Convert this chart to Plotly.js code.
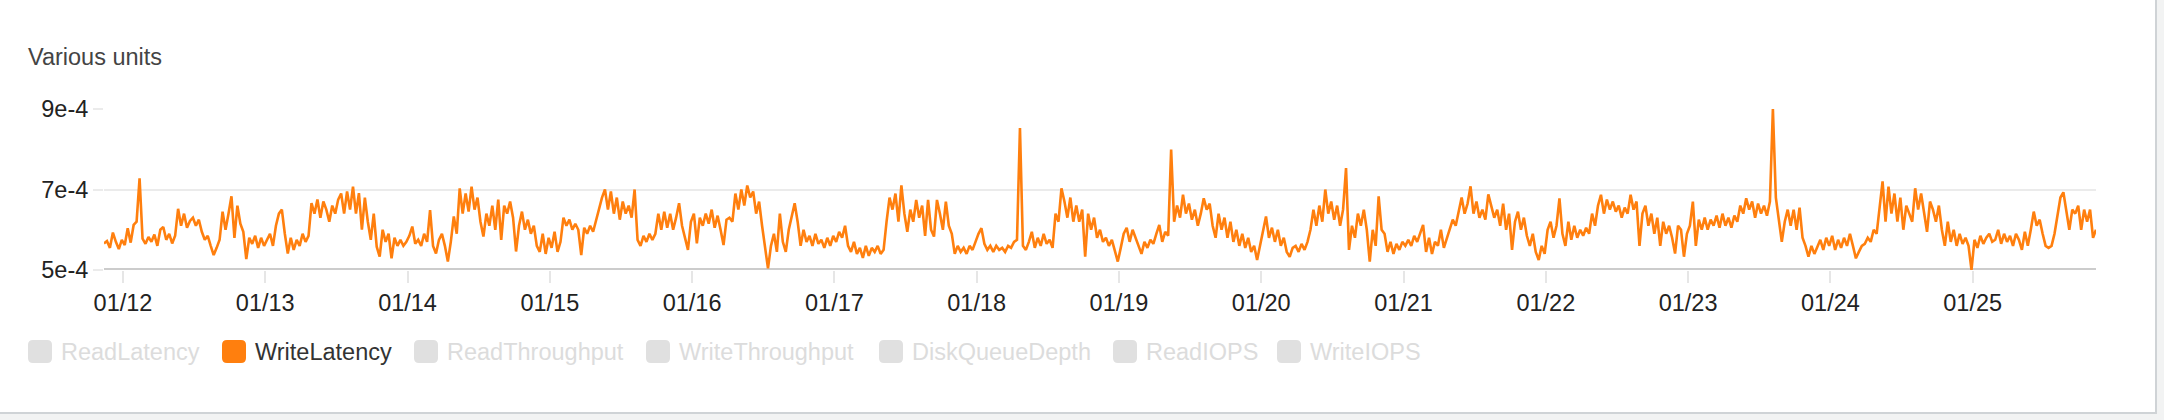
<!DOCTYPE html>
<html><head><meta charset="utf-8">
<script src="https://cdn.plot.ly/plotly-3.0.1.min.js"></script>
<style>
html,body{margin:0;padding:0;background:#f2f3f3;width:2164px;height:420px;overflow:hidden}
#panel{position:absolute;left:0;top:0;width:2155px;height:412px;background:#fff;border-right:2px solid #cfd3d6;border-bottom:2px solid #cfd3d6}
#chart{position:absolute;left:0;top:0;width:2164px;height:420px}
</style></head><body>
<div id="panel"></div><div id="chart"></div>
<script>
// ---- data ----
const chartTitle = 'Various units';
const seriesName = 'WriteLatency';
const legendNames = ['ReadLatency','WriteLatency','ReadThroughput','WriteThroughput','DiskQueueDepth','ReadIOPS','WriteIOPS'];
const legendActive = [false,true,false,false,false,false,false];
const startTimeUTC = [2021, 0, 11, 20, 48];   // first sample
const periodMinutes = 30;
const rangeStart = '2021-01-11 20:48';
const rangeEnd = '2021-01-25 20:48';
const yTickVals = [5e-4, 7e-4, 9e-4];
const yTickText = ['5e-4', '7e-4', '9e-4'];
// WriteLatency in microseconds (1e-6 s), one value per 30 minutes
const writeLatencyMicros = [
566,572,555,593,570,552,575,562,604,568,
612,620,728,578,565,582,570,588,560,600,
607,575,590,566,585,652,610,640,605,622,
630,610,625,595,575,585,560,537,555,575,
645,600,640,683,580,660,615,595,527,580,
565,585,555,580,560,575,590,560,610,640,
650,590,541,580,550,575,560,590,570,585,
666,640,675,630,670,650,620,660,640,675,
690,640,695,650,707,640,691,600,680,620,
575,640,558,533,600,570,590,529,580,560,
575,560,570,585,608,565,575,560,590,570,
649,560,541,575,590,560,521,570,633,590,
703,640,690,645,707,650,680,620,583,640,
610,660,600,675,
575,660,640,670,630,546,
610,645,600,625,590,610,560,545,590,540,
580,555,595,545,570,630,610,625,600,615,
600,537,605,590,610,595,625,650,680,700,
650,695,640,680,625,670,640,660,630,700,
575,560,585,570,590,575,590,640,600,645,
605,640,600,630,666,610,580,550,620,640,
566,630,610,640,615,650,605,635,600,562,
625,630,620,690,650,700,660,710,680,695,
640,670,610,560,504,560,590,545,640,570,
545,600,630,666,620,560,600,570,585,560,
590,565,575,555,580,560,585,570,595,580,
610,560,545,570,540,555,530,560,535,555,
545,560,540,550,620,680,
650,690,620,710,
640,595,650,620,674,630,660,585,674,600,
583,674,640,600,670,610,590,540,560,545,
555,540,560,550,570,590,604,565,550,560,
545,560,550,555,545,560,555,570,575,853,
560,550,570,595,555,580,560,590,565,575,
555,640,620,703,670,630,680,620,660,620,
650,533,640,600,630,580,600,570,580,560,
575,550,521,555,590,605,570,600,580,555,
540,570,555,575,565,590,612,570,595,585,
799,620,660,630,687,640,665,625,650,610,
640,678,650,665,610,580,640,600,630,580,
620,570,600,560,590,555,580,545,560,525,
560,590,633,580,605,570,600,560,580,545,
533,555,
560,545,565,550,570,600,650,610,
660,620,700,640,670,625,660,610,650,753,
550,610,580,640,610,650,600,521,600,560,
683,600,590,545,570,540,565,550,570,560,
575,560,585,570,590,612,545,580,540,570,
560,600,555,580,600,625,610,650,680,640,
665,708,640,670,630,650,625,688,660,630,
650,610,665,600,640,550,620,645,600,630,
585,560,590,545,525,560,540,600,620,580,
610,678,590,560,620,575,610,580,600,585,
605,590,640,610,660,687,640,675,650,670,
645,660,630,655,640,687,650,670,560,640,
660,610,640,590,630,560,620,590,610,580,
541,610,600,533,590,610,
670,560,625,600,
630,600,625,610,635,605,640,610,630,605,
635,620,660,640,678,650,670,630,665,640,
660,635,670,900,680,630,570,620,650,610,
650,600,655,580,560,533,560,540,560,575,
550,580,560,585,550,575,555,580,560,590,
560,529,545,560,565,580,570,600,590,650,
720,620,707,640,690,620,680,600,660,640,
620,703,650,690,640,595,670,650,620,660,
600,560,620,570,600,560,590,565,580,560,
500,575,555,585,565,580,590,570,575,600,
565,590,570,585,560,590,575,550,595,560,
600,645,610,625,590,560,555,560,590,640,
680,693,640,600,650,640,660,600,650,620,
650,580,600
];

// ---- styling / layout ----
const FONT = '"Liberation Sans", Arial, Helvetica, sans-serif';
const FS = 23.5;
const ORANGE = '#ff7f0e';
const W = 2164, H = 420;
const M = {l:104, r:68, t:109, b:150};
const PW = W - M.l - M.r, PH = H - M.t - M.b;
const px2x = px => (px - M.l) / PW;
const py2y = py => (H - M.b - py) / PH;

const t0 = Date.UTC.apply(null, startTimeUTC);
const xs = writeLatencyMicros.map((_, i) =>
  new Date(t0 + i * periodMinutes * 60000).toISOString().slice(0, 19).replace('T', ' '));
const ys = writeLatencyMicros.map(v => v * 1e-6);

const trace = {
  type: 'scatter', mode: 'lines', name: seriesName,
  x: xs, y: ys,
  line: {color: ORANGE, width: 2.6},
  hoverinfo: 'skip'
};

// legend (drawn as shapes + annotations)
const swatchLeft = [28, 222, 414, 646, 879, 1113, 1277];
const swTop = 340, swSize = 24, swH = 23, swR = 5;
const shapes = [{
  type: 'line', xref: 'paper', yref: 'y', x0: 0, x1: 1, y0: 5e-4, y1: 5e-4,
  line: {color: '#cccccc', width: 4}, layer: 'below'
}];
const annotations = [];
legendNames.forEach((name, k) => {
  const L = swatchLeft[k], R = L + swSize, T = swTop, B = swTop + swH;
  const x0 = px2x(L), x1 = px2x(R), yT = py2y(T), yB = py2y(B);
  const rx = swR / PW, ry = swR / PH;
  const path = 'M ' + (x0+rx) + ',' + yB + ' L ' + (x1-rx) + ',' + yB +
    ' Q ' + x1 + ',' + yB + ' ' + x1 + ',' + (yB+ry) +
    ' L ' + x1 + ',' + (yT-ry) + ' Q ' + x1 + ',' + yT + ' ' + (x1-rx) + ',' + yT +
    ' L ' + (x0+rx) + ',' + yT + ' Q ' + x0 + ',' + yT + ' ' + x0 + ',' + (yT-ry) +
    ' L ' + x0 + ',' + (yB+ry) + ' Q ' + x0 + ',' + yB + ' ' + (x0+rx) + ',' + yB + ' Z';
  shapes.push({type: 'path', xref: 'paper', yref: 'paper', path: path,
    fillcolor: legendActive[k] ? ORANGE : '#e0e0e0', line: {width: 0}, layer: 'above'});
  annotations.push({xref: 'paper', yref: 'paper', x: px2x(R + 8), y: py2y(352),
    xanchor: 'left', yanchor: 'middle', showarrow: false, text: name, borderpad: 0,
    font: {family: FONT, size: FS, color: legendActive[k] ? '#333333' : '#dcdcdc'}});
});

const layout = {
  width: W, height: H, margin: Object.assign({pad: 0}, M),
  paper_bgcolor: 'rgba(0,0,0,0)', plot_bgcolor: 'rgba(0,0,0,0)',
  showlegend: false,
  font: {family: FONT, size: FS, color: '#222'},
  title: {text: chartTitle, xref: 'container', yref: 'container',
    x: 28 / W, xanchor: 'left', y: 1 - 57 / H, yanchor: 'middle',
    font: {family: FONT, size: FS, color: '#444'}},
  xaxis: {type: 'date', range: [rangeStart, rangeEnd], tick0: '2021-01-12', dtick: 86400000,
    tickformat: '%m/%d', ticks: 'outside', ticklen: 12, tickwidth: 2, tickcolor: '#e6e6e6',
    showgrid: false, zeroline: false, showline: false,
    tickfont: {family: FONT, size: FS, color: '#222'}, fixedrange: true},
  yaxis: {range: [5e-4, 9e-4], tickvals: yTickVals, ticktext: yTickText,
    showgrid: true, gridcolor: '#ebebeb', gridwidth: 2,
    ticks: 'outside', ticklen: 10, tickwidth: 2, tickcolor: '#ebebeb',
    zeroline: false, showline: false,
    tickfont: {family: FONT, size: FS, color: '#222'}, fixedrange: true},
  shapes: shapes, annotations: annotations
};

Plotly.newPlot('chart', [trace], layout, {displayModeBar: false, staticPlot: true});
</script></body></html>
